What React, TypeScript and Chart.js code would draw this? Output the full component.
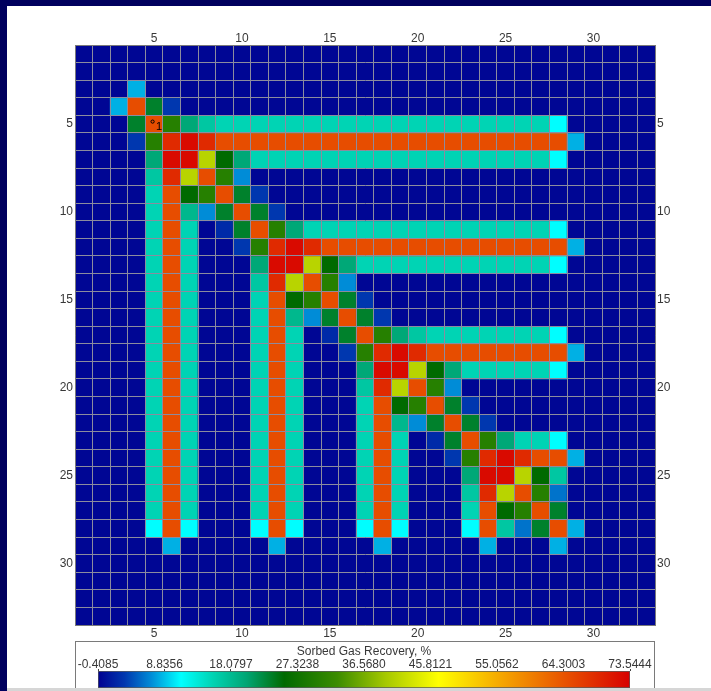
import { useEffect, useRef } from 'react';
import { Chart, registerables } from 'chart.js';

Chart.register(...registerables);

// ---- data -------------------------------------------------------------
const columnLabels = ['1','2','3','4','5','6','7','8','9','10','11','12','13','14','15','16','17','18','19','20','21','22','23','24','25','26','27','28','29','30','31','32','33'];
const rowLabels = [1,2,3,4,5,6,7,8,9,10,11,12,13,14,15,16,17,18,19,20,21,22,23,24,25,26,27,28,29,30,31,32,33];

// Sorbed gas recovery (%) per grid cell, row 1 (top) .. row 33 (bottom), column 1 .. 33
const sorbedGasRecovery: number[][] = [
  [0,0,0,0,0,0,0,0,0,0,0,0,0,0,0,0,0,0,0,0,0,0,0,0,0,0,0,0,0,0,0,0,0],
  [0,0,0,0,0,0,0,0,0,0,0,0,0,0,0,0,0,0,0,0,0,0,0,0,0,0,0,0,0,0,0,0,0],
  [0,0,0,8.3,0,0,0,0,0,0,0,0,0,0,0,0,0,0,0,0,0,0,0,0,0,0,0,0,0,0,0,0,0],
  [0,0,8.3,65,23.5,3.3,0,0,0,0,0,0,0,0,0,0,0,0,0,0,0,0,0,0,0,0,0,0,0,0,0,0,0],
  [0,0,0,23.5,65,30.2,20,16.8,15.5,15.5,15.5,15.5,15.5,15.5,15.5,15.5,15.5,15.5,15.5,15.5,15.5,15.5,15.5,15.5,15.5,15.5,15.5,11.1,0,0,0,0,0],
  [0,0,0,3.3,30.2,68.9,72.4,68.9,65,65,65,65,65,65,65,65,65,65,65,65,65,65,65,65,65,65,65,65,8.3,0,0,0,0],
  [0,0,0,0,20,72.4,72.4,41.1,25.5,20,15.5,15.5,15.5,15.5,15.5,15.5,15.5,15.5,15.5,15.5,15.5,15.5,15.5,15.5,15.5,15.5,15.5,11.1,0,0,0,0,0],
  [0,0,0,0,16.8,68.9,41.1,65,30.2,7,0,0,0,0,0,0,0,0,0,0,0,0,0,0,0,0,0,0,0,0,0,0,0],
  [0,0,0,0,15.5,65,25.5,30.2,65,23.5,3.3,0,0,0,0,0,0,0,0,0,0,0,0,0,0,0,0,0,0,0,0,0,0],
  [0,0,0,0,15.5,65,18.4,7,23.5,65,23.5,3.3,0,0,0,0,0,0,0,0,0,0,0,0,0,0,0,0,0,0,0,0,0],
  [0,0,0,0,15.5,65,15.5,0,2.4,23.5,65,30.2,20,15.5,15.5,15.5,15.5,15.5,15.5,15.5,15.5,15.5,15.5,15.5,15.5,15.5,15.5,11.1,0,0,0,0,0],
  [0,0,0,0,15.5,65,15.5,0,0,3.3,30.2,68.9,72.4,68.9,65,65,65,65,65,65,65,65,65,65,65,65,65,65,8.3,0,0,0,0],
  [0,0,0,0,15.5,65,15.5,0,0,0,20,72.4,72.4,41.1,25.5,20,15.5,15.5,15.5,15.5,15.5,15.5,15.5,15.5,15.5,15.5,15.5,11.1,0,0,0,0,0],
  [0,0,0,0,15.5,65,15.5,0,0,0,16.8,68.9,41.1,65,30.2,7,0,0,0,0,0,0,0,0,0,0,0,0,0,0,0,0,0],
  [0,0,0,0,15.5,65,15.5,0,0,0,15.5,65,25.5,30.2,65,23.5,3.3,0,0,0,0,0,0,0,0,0,0,0,0,0,0,0,0],
  [0,0,0,0,15.5,65,15.5,0,0,0,15.5,65,18.4,7,23.5,65,23.5,3.3,0,0,0,0,0,0,0,0,0,0,0,0,0,0,0],
  [0,0,0,0,15.5,65,15.5,0,0,0,15.5,65,15.5,0,2.4,23.5,65,30.2,20,16.8,15.5,15.5,15.5,15.5,15.5,15.5,15.5,11.1,0,0,0,0,0],
  [0,0,0,0,15.5,65,15.5,0,0,0,15.5,65,15.5,0,0,3.3,30.2,68.9,72.4,68.9,65,65,65,65,65,65,65,65,8.3,0,0,0,0],
  [0,0,0,0,15.5,65,15.5,0,0,0,15.5,65,15.5,0,0,0,20,72.4,72.4,41.1,25.5,20,15.5,15.5,15.5,15.5,15.5,11.1,0,0,0,0,0],
  [0,0,0,0,15.5,65,15.5,0,0,0,15.5,65,15.5,0,0,0,16.8,68.9,41.1,65,30.2,7,0,0,0,0,0,0,0,0,0,0,0],
  [0,0,0,0,15.5,65,15.5,0,0,0,15.5,65,15.5,0,0,0,15.5,65,25.5,30.2,65,23.5,3.3,0,0,0,0,0,0,0,0,0,0],
  [0,0,0,0,15.5,65,15.5,0,0,0,15.5,65,15.5,0,0,0,15.5,65,18.4,7,23.5,65,23.5,3.3,0,0,0,0,0,0,0,0,0],
  [0,0,0,0,15.5,65,15.5,0,0,0,15.5,65,15.5,0,0,0,15.5,65,15.5,0,2.4,23.5,65,30.2,20,15.5,15.5,11.1,0,0,0,0,0],
  [0,0,0,0,15.5,65,15.5,0,0,0,15.5,65,15.5,0,0,0,15.5,65,15.5,0,0,3.3,30.2,68.9,72.4,68.9,65,65,8.3,0,0,0,0],
  [0,0,0,0,15.5,65,15.5,0,0,0,15.5,65,15.5,0,0,0,15.5,65,15.5,0,0,0,20,72.4,72.4,41.1,25.5,16.8,0,0,0,0,0],
  [0,0,0,0,15.5,65,15.5,0,0,0,15.5,65,15.5,0,0,0,15.5,65,15.5,0,0,0,16.8,68.9,41.1,65,30.2,5.9,0,0,0,0,0],
  [0,0,0,0,15.5,65,15.5,0,0,0,15.5,65,15.5,0,0,0,15.5,65,15.5,0,0,0,15.5,65,25.5,30.2,65,23.5,0,0,0,0,0],
  [0,0,0,0,11.1,65,11.1,0,0,0,11.1,65,11.1,0,0,0,11.1,65,11.1,0,0,0,11.1,65,16.8,5.9,23.5,65,8.3,0,0,0,0],
  [0,0,0,0,0,8.3,0,0,0,0,0,8.3,0,0,0,0,0,8.3,0,0,0,0,0,8.3,0,0,0,8.3,0,0,0,0,0],
  [0,0,0,0,0,0,0,0,0,0,0,0,0,0,0,0,0,0,0,0,0,0,0,0,0,0,0,0,0,0,0,0,0],
  [0,0,0,0,0,0,0,0,0,0,0,0,0,0,0,0,0,0,0,0,0,0,0,0,0,0,0,0,0,0,0,0,0],
  [0,0,0,0,0,0,0,0,0,0,0,0,0,0,0,0,0,0,0,0,0,0,0,0,0,0,0,0,0,0,0,0,0],
  [0,0,0,0,0,0,0,0,0,0,0,0,0,0,0,0,0,0,0,0,0,0,0,0,0,0,0,0,0,0,0,0,0],
];

const wellLabels = [{ name: '1', col: 5, row: 5 }];

const colorbarMin = -0.4085;
const colorbarMax = 73.5444;
const colorbarTicks = [-0.4085, 8.8356, 18.0797, 27.3238, 36.568, 45.8121, 55.0562, 64.3003, 73.5444];
const colorbarTitle = 'Sorbed Gas Recovery, %';

// colour map: fraction of range -> rgb
const colormapStops: [number, [number, number, number]][] = [
  [0.0, [0, 0, 145]],
  [0.05, [0, 55, 175]],
  [0.1, [0, 140, 215]],
  [0.156, [0, 255, 255]],
  [0.215, [0, 212, 180]],
  [0.28, [0, 165, 115]],
  [0.35, [0, 106, 0]],
  [0.45, [60, 140, 0]],
  [0.54, [165, 200, 0]],
  [0.64, [255, 255, 0]],
  [0.76, [245, 165, 0]],
  [0.88, [232, 80, 0]],
  [1.0, [215, 0, 0]],
];

// ---- helpers ----------------------------------------------------------
const FONT = '"Liberation Sans", Arial, Helvetica, sans-serif';
const TEXT = '#383838';
const GRID = 'rgb(140,140,158)';

function rgb(c: number[]) {
  return `rgb(${Math.round(c[0])},${Math.round(c[1])},${Math.round(c[2])})`;
}

function colorFor(v: number) {
  let f = (v - colorbarMin) / (colorbarMax - colorbarMin);
  f = Math.max(0, Math.min(1, f));
  for (let i = 1; i < colormapStops.length; i++) {
    const [f1, c1] = colormapStops[i];
    const [f0, c0] = colormapStops[i - 1];
    if (f <= f1) {
      const t = (f - f0) / (f1 - f0);
      return rgb([c0[0] + (c1[0] - c0[0]) * t, c0[1] + (c1[1] - c0[1]) * t, c0[2] + (c1[2] - c0[2]) * t]);
    }
  }
  return rgb(colormapStops[colormapStops.length - 1][1]);
}

const tickFont = { family: FONT, size: 12 };

export default function App() {
  const heatRef = useRef<HTMLCanvasElement | null>(null);
  const barRef = useRef<HTMLCanvasElement | null>(null);

  useEffect(() => {
    Chart.defaults.font.family = FONT;

    const wellPlugin = {
      id: 'wellLabels',
      afterDraw(chart: any) {
        const { ctx, scales } = chart;
        ctx.save();
        wellLabels.forEach((w) => {
          const x = scales.x.getPixelForValue(w.col - 1);
          const y = scales.y.getPixelForValue(w.row);
          ctx.strokeStyle = '#000';
          ctx.lineWidth = 1;
          ctx.beginPath();
          ctx.arc(x - 1.5, y - 2.5, 1.6, 0, Math.PI * 2);
          ctx.stroke();
          ctx.fillStyle = '#000';
          ctx.font = `11px ${FONT}`;
          ctx.textAlign = 'center';
          ctx.textBaseline = 'middle';
          ctx.fillText(w.name, x + 5, y + 3);
        });
        ctx.restore();
      },
    };

    const heat = new Chart(heatRef.current as HTMLCanvasElement, {
      type: 'bar',
      data: {
        labels: columnLabels,
        datasets: rowLabels.map((r, ri) => ({
          label: `row ${r}`,
          data: sorbedGasRecovery[ri].map(() => [r - 0.5, r + 0.5]),
          backgroundColor: sorbedGasRecovery[ri].map((v) => colorFor(v)),
          borderWidth: 0,
          barPercentage: 1,
          categoryPercentage: 1,
          grouped: false,
        })) as any,
      },
      plugins: [wellPlugin],
      options: {
        animation: false,
        responsive: false,
        devicePixelRatio: 1,
        layout: { padding: 0 },
        plugins: { legend: { display: false }, tooltip: { enabled: false } },
        scales: {
          x: {
            type: 'category',
            position: 'bottom',
            offset: true,
            grid: { display: true, offset: true, color: GRID, lineWidth: 1, drawTicks: false, z: 1 },
            border: { display: true, color: '#7a7a7a', z: 2 },
            ticks: {
              autoSkip: false,
              maxRotation: 0,
              padding: 1,
              color: TEXT,
              font: tickFont,
              callback: (_v: any, i: number) => (Number(columnLabels[i]) % 5 === 0 ? columnLabels[i] : ''),
            },
            afterFit: (s: any) => { s.height = 66; },
          },
          xTop: {
            type: 'category',
            position: 'top',
            offset: true,
            grid: { display: false, drawTicks: false },
            border: { display: true, color: '#7a7a7a', z: 2 },
            ticks: {
              autoSkip: false,
              maxRotation: 0,
              padding: -1,
              color: TEXT,
              font: tickFont,
              callback: (_v: any, i: number) => (Number(columnLabels[i]) % 5 === 0 ? columnLabels[i] : ''),
            },
            afterFit: (s: any) => { s.height = 45; },
          },
          y: {
            type: 'linear',
            position: 'left',
            reverse: true,
            min: 0.5,
            max: 33.5,
            afterBuildTicks: (s: any) => { s.ticks = rowLabels.map((value) => ({ value })); },
            grid: { display: true, offset: true, color: GRID, lineWidth: 1, drawTicks: false, z: 1 },
            border: { display: true, color: '#7a7a7a', z: 2 },
            ticks: {
              autoSkip: false,
              padding: 2,
              color: TEXT,
              font: tickFont,
              callback: (v: any) => (Number(v) % 5 === 0 ? String(v) : ''),
            },
            afterFit: (s: any) => { s.width = 75; },
          },
          yRight: {
            type: 'linear',
            position: 'right',
            reverse: true,
            min: 0.5,
            max: 33.5,
            afterBuildTicks: (s: any) => { s.ticks = rowLabels.map((value) => ({ value })); },
            grid: { display: false, drawTicks: false },
            border: { display: true, color: '#7a7a7a', z: 2 },
            ticks: {
              autoSkip: false,
              padding: 2,
              color: TEXT,
              font: tickFont,
              callback: (v: any) => (Number(v) % 5 === 0 ? String(v) : ''),
            },
            afterFit: (s: any) => { s.width = 56; },
          },
        },
      } as any,
    });

    const bar = new Chart(barRef.current as HTMLCanvasElement, {
      type: 'bar',
      data: {
        labels: [''],
        datasets: [
          {
            label: colorbarTitle,
            data: [[colorbarMin, colorbarMax]] as any,
            backgroundColor: (c: any) => {
              const chart = c.chart;
              if (!chart.chartArea) return '#000080';
              const xs = chart.scales.x;
              const g = chart.ctx.createLinearGradient(xs.getPixelForValue(colorbarMin), 0, xs.getPixelForValue(colorbarMax), 0);
              colormapStops.forEach(([f, col]) => g.addColorStop(f, rgb(col)));
              return g;
            },
            borderWidth: 1,
            borderColor: '#5a5a5a',
            borderSkipped: false,
            barPercentage: 1,
            categoryPercentage: 1,
          },
        ],
      },
      options: {
        animation: false,
        responsive: false,
        devicePixelRatio: 1,
        indexAxis: 'y',
        layout: { padding: { left: 22, right: 24, top: 0, bottom: 0 } },
        plugins: { legend: { display: false }, tooltip: { enabled: false } },
        scales: {
          x: {
            type: 'linear',
            position: 'top',
            min: colorbarMin,
            max: colorbarMax,
            afterBuildTicks: (s: any) => { s.ticks = colorbarTicks.map((value) => ({ value })); },
            grid: { drawOnChartArea: false, drawTicks: true, tickLength: 2, color: '#444' },
            border: { display: false },
            ticks: {
              autoSkip: false,
              maxRotation: 0,
              padding: -2,
              color: TEXT,
              font: { family: FONT, size: 12, lineHeight: 1 },
              callback: (v: any) => Number(v).toFixed(4),
            },
            title: {
              display: true,
              text: colorbarTitle,
              color: TEXT,
              font: { family: FONT, size: 12 },
              padding: { top: 2, bottom: 0 },
            },
            afterFit: (s: any) => { s.height = 29; },
          },
          y: { type: 'category', display: false },
        },
      } as any,
    });

    return () => {
      heat.destroy();
      bar.destroy();
    };
  }, []);

  return (
    <div style={{ position: 'fixed', left: 0, top: 0, width: 711, height: 691, background: '#00005e', overflow: 'hidden' }}>
      <div style={{ position: 'absolute', left: 7, top: 6, width: 704, height: 682, background: '#ffffff' }} />
      <div style={{ position: 'absolute', left: 7, top: 688, width: 704, height: 3, background: '#d6d6d6' }} />
      <canvas ref={heatRef} width={711} height={691} style={{ position: 'absolute', left: 0, top: 0 }} />
      <div
        style={{
          position: 'absolute',
          left: 75,
          top: 641,
          width: 580,
          height: 47,
          boxSizing: 'border-box',
          border: '1px solid #7a7a7a',
          borderBottom: 'none',
          background: '#ffffff',
        }}
      >
        <canvas ref={barRef} width={578} height={46} style={{ display: 'block' }} />
      </div>
    </div>
  );
}
